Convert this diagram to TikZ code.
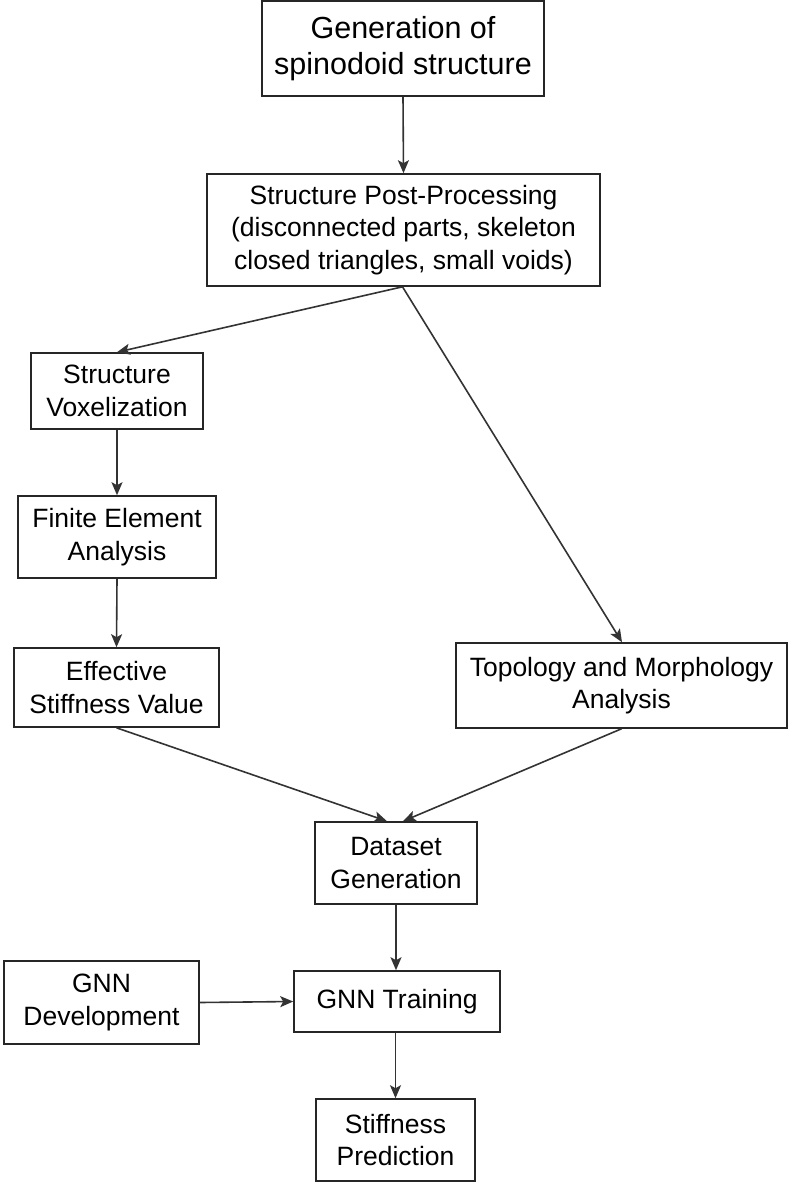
\documentclass[tikz,border=0pt]{standalone}
\usepackage{fontspec}
\setmainfont{Liberation Sans}
\usetikzlibrary{arrows.meta}
\begin{document}
\begin{tikzpicture}[x=1pt,y=-1pt,
  box/.style={draw=black!85,line width=1.6pt,fill=white,inner sep=0pt,align=center,
    font=\fontsize{26.5}{32.5}\selectfont,text=black},
  bigbox/.style={box,font=\fontsize{30.5}{36}\selectfont},
  arr/.style={draw=black!80,line width=1.6pt,-{Stealth[length=13pt,width=11pt,inset=3pt]}}]
\useasboundingbox (0,0) rectangle (790,1182);
\node[bigbox,minimum width=282pt,minimum height=95pt] (gen) at (403,48.5) {Generation of\\spinodoid structure};
\node[box,minimum width=393pt,minimum height=112pt] (post) at (403.5,230) {Structure Post-Processing\\(disconnected parts, skeleton\\closed triangles, small voids)};
\node[box,minimum width=172pt,minimum height=76pt] (vox) at (117,391) {Structure\\Voxelization};
\node[box,minimum width=198pt,minimum height=82pt] (fea) at (117,537) {Finite Element\\Analysis};
\node[box,minimum width=205pt,minimum height=79pt] (eff) at (116.5,687.5) {Effective\\Stiffness Value};
\node[box,minimum width=331pt,minimum height=85pt] (topo) at (621.5,685.5) {Topology and Morphology\\Analysis};
\node[box,minimum width=162pt,minimum height=82pt] (data) at (396,863) {Dataset\\Generation};
\node[box,minimum width=195pt,minimum height=83pt] (dev) at (101.5,1002.5) {GNN\\Development};
\node[box,minimum width=206pt,minimum height=61pt] (train) at (397,1001.5) {GNN Training};
\node[box,minimum width=159pt,minimum height=82pt] (pred) at (395.5,1140) {Stiffness\\Prediction};
\draw[arr] (gen.south) -- (post.north);
\draw[arr] ([xshift=-1pt]post.south) -- (vox.north);
\draw[arr] ([xshift=-1pt]post.south) -- ([xshift=0.5pt]topo.north);
\draw[arr] (vox.south) -- (fea.north);
\draw[arr] (fea.south) -- (eff.north);
\draw[arr] (eff.south) -- ([xshift=-9pt]data.north);
\draw[arr] (topo.south) -- ([xshift=7pt]data.north);
\draw[arr] (data.south) -- ([xshift=-1pt]train.north);
\draw[arr] (dev.east) -- (train.west);
\draw[arr] ([xshift=-1.5pt]train.south) -- (pred.north);
\end{tikzpicture}
\end{document}
